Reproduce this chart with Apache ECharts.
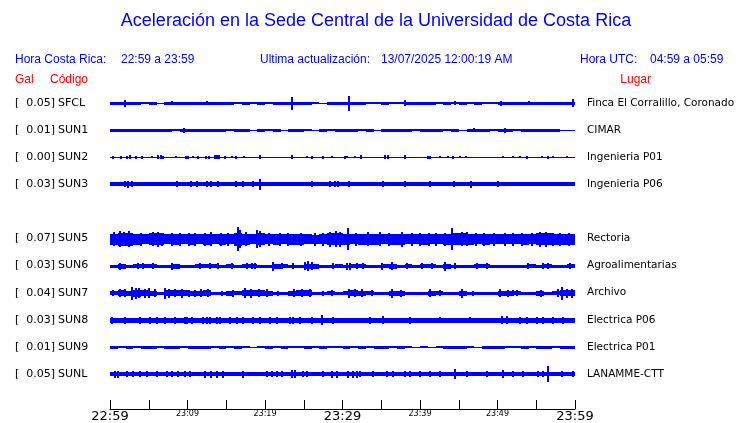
<!DOCTYPE html>
<html><head><meta charset="utf-8">
<script src="https://cdn.jsdelivr.net/npm/echarts@6/dist/echarts.min.js"></script>
<style>html,body{margin:0;padding:0;background:#fff}#c{width:740px;height:423px}</style>
</head><body><div id="c"></div>
<script>
// ---------- DATA ----------
const tickLabels = ['22:59','23:09','23:19','23:29','23:39','23:49','23:59'];
const titleText = 'Aceleración en la Sede Central de la Universidad de Costa Rica';
const hdrLocalLabel = 'Hora Costa Rica:';
const hdrLocalValue = '22:59 a 23:59';
const hdrUpdLabel = 'Ultima actualización:';
const hdrUpdValue = '13/07/2025 12:00:19 AM';
const hdrUtcLabel = 'Hora UTC:';
const hdrUtcValue = '04:59 a 05:59';
const codes  = ['SFCL','SUN1','SUN2','SUN3',null,'SUN5','SUN6','SUN7','SUN8','SUN9','SUNL'];
const gal    = ['0.05','0.01','0.00','0.03',null,'0.07','0.03','0.04','0.03','0.01','0.05'];
const places = ['Finca El Corralillo, Coronado','CIMAR','Ingenieria P01','Ingenieria P06',null,
                'Rectoria','Agroalimentarias','Archivo','Electrica P06','Electrica P01','LANAMME-CTT'];
const SPAN_MIN = 60;

// per-minute half-amplitude envelopes (relative units)
const envSFCL = [1.5,1.5,1.5,1.5,1.0,1.5,0.5,1.5,1.5,1.5, 1.5,1.5,1.5,1.5,1.5,1.5,1.0,1.5,1.0,1.5,
                 1.0,1.5,1.5,1.5,1.5,1.5,1.0,0.5,1.5,1.5, 1.5,1.5,1.5,1.0,1.0,1.5,1.0,1.0,1.5,1.5,
                 1.5,1.5,1.0,1.5,1.0,1.5,1.0,1.5,1.0,1.0, 1.5,1.5,1.5,1.5,1.5,1.5,1.5,1.5,1.5,1.7];
const envSUN1 = [1.5,1.5,1.4,1.5,1.3,1.5,1.4,1.5,1.0,1.5, 1.4,1.5,1.4,1.3,1.4,1.0,1.3,1.4,0.5,1.3,
                 1.0,1.4,0.5,1.3,1.4,1.0,0.5,1.3,1.0,1.4, 1.3,1.4,1.0,1.3,0.5,1.5,1.5,1.5,1.4,1.0,
                 1.3,1.4,1.3,1.0,1.4,0.5,1.3,1.4,1.3,1.0, 1.3,1.4,1.0,1.4,1.3,1.4,1.3,1.3,0.5,0.5];
const envSUN2 = [0.6,0.6,0.6,0.6,0.6,0.6,0.6,0.6,0.6,0.6, 0.6,0.6,0.6,0.6,0.6,0.6,0.6,0.6,0.6,0.6,
                 0.6,0.6,0.6,0.6,0.6,0.6,0.6,0.6,0.6,0.6, 0.6,0.6,0.6,0.6,0.6,0.6,0.6,0.6,0.6,0.6,
                 0.6,0.6,0.6,0.6,0.6,0.6,0.6,0.6,0.6,0.6, 0.6,0.6,0.6,0.6,0.6,0.6,0.6,0.6,0.6,0.6];
const envSUN3 = [2.0,2.1,2.2,2.0,2.0,2.0,2.0,2.0,2.1,2.0, 2.0,2.1,2.0,2.0,2.0,2.0,2.1,2.0,2.0,2.1,
                 2.0,2.0,2.0,2.0,2.0,2.0,2.0,2.0,2.1,2.0, 2.0,2.0,2.0,2.0,2.0,2.1,2.0,2.0,2.0,2.0,
                 2.0,2.0,2.0,2.0,2.0,2.0,2.1,2.0,2.0,2.0, 2.0,2.0,2.0,2.0,2.0,2.0,2.0,2.0,2.0,2.1];
const envSUN5 = [5.5,6.5,6.5,5.5,5.0,6.0,6.0,5.0,5.5,5.0, 5.5,5.0,5.5,5.0,5.5,5.0,6.5,5.5,5.0,6.0,
                 5.0,5.5,5.0,5.5,5.5,5.0,4.5,5.0,6.0,6.0, 5.5,5.0,5.5,5.5,5.5,5.0,5.5,5.5,5.0,5.0,
                 5.5,5.0,5.0,5.5,6.0,6.0,5.5,5.0,5.5,5.0, 5.0,5.0,5.0,5.5,5.0,6.0,6.0,5.5,5.5,5.5];
const envSUN6 = [1.7,2.5,1.7,2.2,2.2,2.2,1.7,1.7,2.5,1.7, 1.7,2.2,2.2,2.2,1.7,2.0,1.7,2.2,2.2,1.7,
                 1.7,2.5,2.2,1.7,1.3,2.5,2.5,1.7,1.7,2.0, 1.7,2.2,2.0,1.7,1.7,2.2,2.5,1.7,2.0,1.7,
                 2.0,2.0,1.7,2.5,1.7,1.7,1.7,2.0,2.0,1.3, 1.3,1.4,1.7,1.7,2.0,1.7,2.2,1.7,1.7,2.0];
const envSUN7 = [2.2,2.8,2.5,3.5,3.2,2.5,1.7,3.2,2.8,2.8, 2.5,2.5,2.8,1.7,1.7,2.5,2.2,3.0,2.8,2.8,
                 2.5,1.7,1.7,2.5,2.8,2.8,1.7,1.7,2.2,1.7, 2.2,2.8,2.5,2.2,1.7,1.7,2.5,2.5,1.7,1.7,
                 1.7,2.5,2.2,1.7,1.7,2.5,1.7,1.7,1.7,1.7, 2.5,2.5,2.2,1.7,1.7,2.5,1.7,2.2,3.0,2.8];
const envSUN8 = [2.6,2.5,2.6,2.5,2.5,2.6,2.5,2.6,2.5,2.6, 2.6,2.5,2.6,2.6,2.5,2.6,2.5,2.6,2.5,2.6,
                 2.5,2.6,2.5,2.6,2.5,2.5,2.6,2.5,2.6,2.5, 2.5,2.5,2.5,2.6,2.5,2.6,2.5,2.5,2.6,2.5,
                 2.5,2.5,2.6,2.5,2.5,2.5,2.6,2.5,2.5,2.6, 2.6,2.6,2.5,2.6,2.5,2.6,2.5,2.6,2.6,2.6];
const envSUN9 = [1.4,0.8,1.4,0.8,1.3,1.4,0.9,1.4,1.4,0.8, 1.4,1.4,1.4,1.0,1.3,0.9,1.4,1.0,0.5,0.9,
                 1.4,0.9,1.3,1.0,0.8,1.3,1.0,1.3,0.9,1.0, 1.4,0.9,1.4,1.0,1.4,1.3,0.8,1.4,0.8,0.5,
                 1.0,0.5,0.9,1.4,1.4,1.3,0.8,0.5,1.3,1.4, 1.4,0.8,1.0,1.3,0.8,1.4,1.3,0.8,1.4,1.3];
const envSUNL = [2.2,2.0,2.0,2.0,2.0,2.0,2.0,2.0,2.0,2.0, 2.0,2.0,2.2,2.2,2.2,2.0,2.0,2.0,2.0,2.0,
                 2.0,2.0,2.0,2.2,2.0,2.0,2.0,2.0,2.0,2.0, 2.2,2.2,2.0,2.0,2.0,2.0,2.0,2.0,2.0,2.0,
                 2.0,2.0,2.0,2.0,2.0,2.0,2.0,2.0,2.0,2.0, 2.0,2.0,2.0,2.0,2.0,2.0,2.0,2.0,2.0,2.0];

// individual peaks: [minute, half-amplitude]
const pkSFCL = [[1.9,3.5],[8.0,2.0],[12.5,2.0],[23.5,6.5],[30.8,7.5],[38.1,3.0],[44.5,2.0],[50.5,2.5],[54.0,2.2],[59.7,4.0]];
const pkSUN1 = [[9.5,2.5],[47.0,2.0],[51.0,2.5]];
const pkSUN2 = [[0.4,1.5],[1.4,1.5],[2.2,1.5],[2.6,2.0],[3.4,1.5],[4.1,1.5],[5.4,1.2],[6.2,1.8],[6.6,1.8],[6.8,1.5],
  [8.5,1.2],[9.8,1.5],[10.1,1.5],[10.7,1.2],[11.4,1.5],[12.4,1.5],[12.8,1.5],[13.5,2.0],[13.8,2.0],[14.1,1.8],
  [14.8,1.5],[15.7,1.2],[16.3,1.5],[17.3,1.2],[19.4,1.8],[23.5,2.0],[25.4,1.2],[26.1,1.5],[27.5,1.5],[28.6,1.2],
  [30.3,1.5],[30.6,1.2],[31.6,1.2],[32.4,1.8],[35.5,1.8],[35.9,1.8],[38.1,1.8],[41.0,1.5],[41.3,1.5],[42.6,1.2],
  [43.6,1.2],[44.3,1.5],[45.2,1.2],[45.9,1.2],[50.7,1.2],[52.0,1.2],[52.9,1.2],[53.8,1.5],[55.7,1.2],[56.5,1.5],
  [57.2,1.2],[59.0,1.2]];
const pkSUN3 = [[1.9,3.0],[2.3,3.5],[2.8,3.0],[8.6,3.0],[10.4,3.0],[11.2,3.0],[12.5,3.0],[13.0,3.0],[13.9,3.0],[16.3,3.0],
  [17.2,3.0],[18.5,2.8],[19.4,5.5],[26.1,3.0],[28.4,3.0],[29.0,3.0],[29.4,3.0],[30.9,3.0],[35.2,3.0],[38.1,3.0],
  [41.3,3.0],[44.4,3.0],[46.6,3.5],[50.0,2.8]];
const pkSUN5 = [[0.5,7.0],[1.3,8.0],[1.8,7.0],[2.4,8.0],[2.8,6.5],[4.0,6.5],[5.5,7.0],[6.2,7.5],[6.7,6.5],[8.0,6.5],
  [9.0,6.5],[10.2,6.5],[11.0,6.5],[12.2,6.5],[13.0,7.0],[14.3,6.5],[15.2,6.5],[16.5,12.0],[16.8,9.0],[17.6,7.0],
  [19.0,9.0],[19.4,8.0],[20.5,6.5],[21.9,6.5],[23.0,6.5],[24.7,6.5],[26.5,6.5],[27.5,6.5],[28.4,7.5],[29.2,8.0],
  [29.7,7.5],[30.7,11.0],[31.8,6.5],[33.3,7.0],[34.8,7.0],[36.0,6.5],[37.7,7.5],[39.0,6.5],[40.0,6.5],[41.2,6.5],
  [42.0,6.5],[43.2,6.5],[44.1,11.0],[45.4,7.0],[46.0,7.0],[47.2,6.5],[48.3,6.5],[49.5,6.5],[51.0,6.5],[52.0,6.5],
  [53.2,6.5],[54.5,6.5],[55.5,7.5],[56.2,7.5],[57.2,6.5],[58.0,6.5],[59.2,6.5]];
const pkSUN6 = [[1.3,3.5],[3.6,3.0],[4.3,3.0],[5.5,3.0],[8.0,3.5],[11.6,3.0],[12.9,3.0],[13.9,3.0],[15.7,3.0],[17.7,3.0],
  [18.3,3.0],[18.7,3.0],[21.0,4.3],[22.2,3.0],[23.6,3.0],[25.2,4.0],[25.6,5.0],[26.0,4.0],[28.8,3.0],[30.6,3.5],
  [31.0,3.5],[31.9,3.0],[32.6,3.0],[35.1,3.5],[36.4,4.0],[38.3,3.0],[40.3,3.0],[41.5,3.0],[43.2,4.3],[44.5,3.0],
  [47.4,3.0],[48.6,3.0],[53.9,3.0],[55.9,3.0],[56.5,3.0],[59.4,3.0]];
const pkSUN7 = [[0.4,3.0],[1.3,4.0],[1.9,4.0],[2.8,6.5],[3.3,5.5],[3.8,5.0],[4.5,4.5],[5.0,5.0],[5.8,4.0],[7.1,5.5],
  [7.6,4.5],[8.4,4.0],[9.3,4.5],[10.2,3.5],[11.0,3.5],[11.8,4.0],[12.6,4.0],[14.5,2.5],[15.9,3.5],[17.4,5.0],
  [18.2,4.5],[19.2,4.0],[20.2,4.0],[21.7,2.5],[23.7,4.0],[24.8,4.0],[25.8,4.0],[27.5,2.5],[28.6,3.0],[30.8,4.5],
  [31.6,4.0],[32.5,4.0],[33.8,3.0],[36.4,4.5],[37.6,3.5],[41.3,4.0],[42.6,3.0],[45.4,4.5],[46.8,2.5],[50.3,4.0],
  [51.4,3.5],[52.0,3.0],[52.5,3.0],[55.6,3.5],[57.8,4.0],[58.3,6.5],[59.0,4.5],[59.6,4.5]];
const pkSUN8 = [[0.3,3.5],[1.9,3.5],[3.9,3.5],[5.2,3.5],[6.1,3.5],[7.1,3.5],[8.4,3.5],[9.7,3.5],[9.9,3.5],[10.6,3.5],
  [12.0,3.5],[12.5,3.5],[12.9,3.5],[13.8,3.5],[14.2,3.5],[15.5,3.5],[16.4,3.5],[17.2,3.5],[18.5,3.5],[19.4,3.5],
  [20.6,3.5],[21.5,3.5],[23.2,3.5],[23.6,3.5],[24.5,3.5],[26.1,3.5],[27.4,5.0],[28.8,3.5],[33.5,3.5],[35.2,4.0],
  [38.7,3.5],[42.6,3.2],[46.5,3.2],[50.6,3.8],[51.2,4.0],[52.9,3.5],[53.8,3.5],[55.1,3.5],[55.9,3.5],[57.2,3.5],[58.5,3.5]];
const pkSUN9 = [];
const pkSUNL = [[0.6,3.5],[1.0,3.5],[2.2,3.0],[3.0,3.0],[3.9,3.0],[4.8,3.0],[6.1,3.0],[7.4,3.0],[8.0,3.0],[8.8,3.0],
  [9.7,3.0],[10.3,3.0],[12.3,3.5],[13.0,3.5],[13.8,3.5],[14.6,3.5],[17.2,3.5],[20.3,3.0],[20.9,3.0],[21.5,3.0],
  [22.2,3.0],[23.5,4.0],[23.9,4.0],[24.9,3.0],[25.4,3.0],[27.5,3.0],[28.6,3.5],[29.3,3.5],[30.7,3.5],[31.4,3.5],
  [31.9,3.5],[32.3,3.0],[33.9,3.0],[35.7,3.0],[36.5,3.0],[38.1,3.0],[38.7,3.0],[40.0,3.0],[41.3,3.0],[42.6,3.0],
  [44.5,5.0],[46.1,3.0],[48.6,3.0],[50.7,4.0],[52.0,3.0],[53.3,3.0],[55.2,3.0],[55.9,3.0],[56.5,8.0],[58.3,3.0],[59.7,3.0]];

const envelopes = [envSFCL,envSUN1,envSUN2,envSUN3,null,envSUN5,envSUN6,envSUN7,envSUN8,envSUN9,envSUNL];
const peaks     = [pkSFCL,pkSUN1,pkSUN2,pkSUN3,null,pkSUN5,pkSUN6,pkSUN7,pkSUN8,pkSUN9,pkSUNL];

// ---------- LAYOUT / STYLE ----------
const ROW = 27.1;          // axis units between traces
const BLUE = '#0000ff';
const RED = '#ff0000';
const SANS = '"Liberation Sans", Arial, sans-serif';
const DJV = '"DejaVu Sans", sans-serif';

const envData = [], pkData = [];
envelopes.forEach((e, s) => { if (e) envData.push([s]); });
peaks.forEach((p, s) => { if (p) p.forEach(q => pkData.push([q[0], q[1], s])); });

// pixel-aligned vertical band centred on the trace baseline
function band(api, x0, x1, c, a) {
  const pc = api.coord([x0, c]);
  const pt = api.coord([x0, c - a]);
  const pe = api.coord([x1, c]);
  const cy = Math.round(pc[1]);
  const th = Math.max(1, Math.round(Math.abs(pc[1] - pt[1]) * 2));
  const xa = Math.round(pc[0]), xb = Math.round(pe[0]);
  return {x: xa, y: cy - Math.floor(th / 2), width: Math.max(1, xb - xa), height: th};
}

const chart = echarts.init(document.getElementById('c'), null, {renderer: 'canvas'});

const option = {
  animation: false,
  backgroundColor: '#fff',
  grid: {left: 110, right: 165, top: 76, height: 333},
  xAxis: {
    type: 'value', min: 0, max: SPAN_MIN, interval: 5, position: 'bottom',
    axisLine: {show: true, onZero: false, lineStyle: {color: '#000', width: 1}},
    axisTick: {show: true, inside: true, length: 9, lineStyle: {color: '#000', width: 1}},
    splitLine: {show: false},
    axisLabel: {
      margin: 1, showMinLabel: true, showMaxLabel: true, hideOverlap: false,
      formatter: function (v) {
        const i = Math.round(v / 10);
        if (Math.abs(v - i * 10) > 1e-6) return '';
        return (i % 3 === 0 ? '{b|' : '{s|') + tickLabels[i] + '}';
      },
      rich: {
        b: {fontFamily: DJV, fontSize: 13, color: '#000'},
        s: {fontFamily: DJV, fontSize: 8, color: '#000'}
      }
    }
  },
  yAxis: {type: 'value', min: -27, max: 306, inverse: true, show: false},
  series: [
    {
      type: 'custom', data: envData, silent: true, clip: false,
      renderItem: function (params, api) {
        const s = api.value(0);
        const env = envelopes[s];
        const c = s * ROW;
        const n = env.length, step = SPAN_MIN / n;
        const kids = [];
        for (let k = 0; k < n; k++) {
          kids.push({type: 'rect', shape: band(api, k * step, (k + 1) * step, c, env[k]), style: {fill: BLUE}});
        }
        return {type: 'group', children: kids};
      }
    },
    {
      type: 'custom', data: pkData, silent: true, clip: false,
      renderItem: function (params, api) {
        const t = api.value(0), a = api.value(1), s = api.value(2);
        const r = band(api, t, t, s * ROW, a);
        r.x -= 1; r.width = 2;
        return {type: 'rect', shape: r, style: {fill: BLUE}};
      }
    }
  ]
};
chart.setOption(option);

// ---------- TEXT ----------
function txt(x, y, text, font, color, align) {
  return {type: 'text', x: x, y: y, silent: true,
          style: {text: text, font: font, fill: color, align: align || 'left', verticalAlign: 'middle'}};
}
const g = [];
g.push(txt(376, 21, titleText, '18px ' + SANS, BLUE, 'center'));
g.push(txt(15, 60, hdrLocalLabel, '12px ' + SANS, BLUE));
g.push(txt(121, 60, hdrLocalValue, '12px ' + SANS, BLUE));
g.push(txt(260, 60, hdrUpdLabel, '12px ' + SANS, BLUE));
g.push(txt(381, 60, hdrUpdValue, '12px ' + SANS, BLUE));
g.push(txt(580, 60, hdrUtcLabel, '12px ' + SANS, BLUE));
g.push(txt(650, 60, hdrUtcValue, '12px ' + SANS, BLUE));
g.push(txt(15, 80, 'Gal', '12px ' + SANS, RED));
g.push(txt(50, 80, 'Código', '12px ' + SANS, RED));
g.push(txt(651, 80, 'Lugar', '12px ' + SANS, RED, 'right'));

const xEnd = chart.convertToPixel({xAxisIndex: 0}, SPAN_MIN);
codes.forEach((code, s) => {
  if (!code) return;
  const y = chart.convertToPixel({yAxisIndex: 0}, s * ROW);
  g.push(txt(15, y, '[', '11px ' + DJV, '#000'));
  g.push(txt(55, y, gal[s] + ']', '11px ' + DJV, '#000', 'right'));
  g.push(txt(58, y, code, '11px ' + DJV, '#000'));
  g.push(txt(xEnd + 12, y, places[s], '10.5px ' + DJV, '#000'));
});
chart.setOption({graphic: {elements: g}});
</script>
</body></html>
